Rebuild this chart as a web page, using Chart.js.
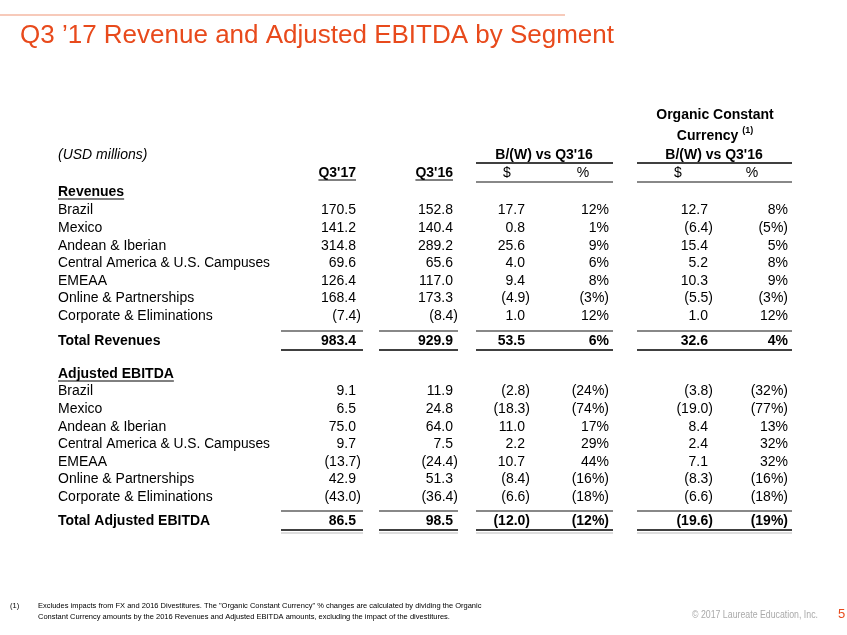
<!DOCTYPE html>
<html lang="en">
<head>
<meta charset="UTF-8">
<title>Q3 '17 Revenue and Adjusted EBITDA by Segment</title>
<script src="https://cdn.jsdelivr.net/npm/chart.js"></script>
<style>
  html, body { margin: 0; padding: 0; background: #fff; }
  #wrap { position: relative; width: 847px; height: 635px; }
</style>
</head>
<body>
<div id="wrap"><canvas id="table" width="847" height="635"></canvas></div>
<script>
// --- data (USD millions) ---
const segments = ['Brazil', 'Mexico', 'Andean & Iberian', 'Central America & U.S. Campuses', 'EMEAA', 'Online & Partnerships', 'Corporate & Eliminations'];

const rev17     = [170.5, 141.2, 314.8, 69.6, 126.4, 168.4, -7.4];
const rev16     = [152.8, 140.4, 289.2, 65.6, 117.0, 173.3, -8.4];
const revDiff   = [17.7, 0.8, 25.6, 4.0, 9.4, -4.9, 1.0];
const revPct    = [12, 1, 9, 6, 8, -3, 12];
const revOcDiff = [12.7, -6.4, 15.4, 5.2, 10.3, -5.5, 1.0];
const revOcPct  = [8, -5, 5, 8, 9, -3, 12];
const revTotal  = [983.4, 929.9, 53.5, 6, 32.6, 4];

const ebitda17     = [9.1, 6.5, 75.0, 9.7, -13.7, 42.9, -43.0];
const ebitda16     = [11.9, 24.8, 64.0, 7.5, -24.4, 51.3, -36.4];
const ebitdaDiff   = [-2.8, -18.3, 11.0, 2.2, 10.7, -8.4, -6.6];
const ebitdaPct    = [-24, -74, 17, 29, 44, -16, -18];
const ebitdaOcDiff = [-3.8, -19.0, 8.4, 2.4, 7.1, -8.3, -6.6];
const ebitdaOcPct  = [-32, -77, 13, 32, 32, -16, -18];
const ebitdaTotal  = [86.5, 98.5, -12.0, -12, -19.6, -19];

const colHeads = ["Q3'17", "Q3'16", '$', '%', '$', '%'];
const colKinds = ['num', 'num', 'num', 'pct', 'num', 'pct'];

// --- layout (page units, mapped through the hidden scales) ---
const FONT = "'Liberation Sans', Arial, sans-serif";
const ORANGE = '#e84a1c';
const colRight = [356, 453, 525, 609, 708, 788];
const subHeadX = [null, null, 507, 583, 678, 752];
const spans = [[281, 363], [379, 458], [476, 613], [637, 792]];
const labelX = 58;
const rowStep = 17.6;
const revY0 = 210.5, revTotY = 341, ebHeadY = 374, ebY0 = 391.5, ebTotY = 521;

function fmt(v, kind) {
    const a = Math.abs(v);
    const s = kind === 'pct' ? a.toFixed(0) + '%' : a.toFixed(1);
    return v < 0 ? '(' + s + ')' : s;
}

const tablePlugin = {
    id: 'tablePlugin',
    afterDraw(chart) {
        const { ctx, scales: { x, y } } = chart;
        const X = v => x.getPixelForValue(v);
        const Y = v => y.getPixelForValue(v);

        function text(str, px, py, font, color, align, maxW) {
            ctx.font = font;
            ctx.fillStyle = color || '#000';
            ctx.textAlign = align || 'left';
            ctx.textBaseline = 'middle';
            if (maxW) ctx.fillText(str, X(px), Y(py), maxW);
            else ctx.fillText(str, X(px), Y(py));
            return ctx.measureText(str).width;
        }
        function hline(x1, x2, py, color, w) {
            ctx.beginPath();
            ctx.strokeStyle = color;
            ctx.lineWidth = w;
            ctx.moveTo(X(x1), Y(py));
            ctx.lineTo(X(x2), Y(py));
            ctx.stroke();
        }
        function underlined(str, px, py, font, align) {
            const w = text(str, px, py, font, '#000', align);
            const x0 = align === 'right' ? px - w : px;
            hline(x0, x0 + w, py + 7, '#000', 1);
        }
        function numRow(vals, py, bold) {
            const font = (bold ? 'bold ' : '') + '14px ' + FONT;
            vals.forEach((v, c) => {
                const shift = (v < 0 && colKinds[c] === 'num') ? 5 : 0;
                text(fmt(v, colKinds[c]), colRight[c] + shift, py, font, '#000', 'right');
            });
        }

        ctx.save();
        // header band
        hline(0, 565, 15, '#f5b9a3', 1.5);
        text("Q3 \u201917 Revenue and Adjusted EBITDA by Segment", 20, 36, '26px ' + FONT, ORANGE);

        // column headers
        const bold = 'bold 14px ' + FONT;
        text('Organic Constant', 715, 115, bold, '#000', 'center');
        ctx.font = bold;
        const wCur = ctx.measureText('Currency ').width;
        ctx.font = 'bold 9px ' + FONT;
        const wSup = ctx.measureText('(1)').width;
        const curX = 715 - (wCur + wSup) / 2;
        text('Currency ', curX, 136, bold, '#000', 'left');
        text('(1)', curX + wCur, 131, 'bold 9px ' + FONT, '#000', 'left');
        text('(USD millions)', labelX, 155, 'italic 14px ' + FONT, '#000', 'left');
        text("B/(W) vs Q3'16", 544, 155, bold, '#000', 'center');
        text("B/(W) vs Q3'16", 714, 155, bold, '#000', 'center');
        hline(spans[2][0], spans[2][1], 163, '#000', 1.5);
        hline(spans[3][0], spans[3][1], 163, '#000', 1.5);
        underlined(colHeads[0], colRight[0], 173, bold, 'right');
        underlined(colHeads[1], colRight[1], 173, bold, 'right');
        for (let c = 2; c < 6; c++) text(colHeads[c], subHeadX[c], 173, '14px ' + FONT, '#000', 'center');
        hline(spans[2][0], spans[2][1], 182, '#888', 2);
        hline(spans[3][0], spans[3][1], 182, '#888', 2);

        // revenues block
        underlined('Revenues', labelX, 192, bold, 'left');
        segments.forEach((s, i) => {
            const py = revY0 + i * rowStep;
            text(s, labelX, py, '14px ' + FONT, '#000', 'left', 212);
            numRow([rev17[i], rev16[i], revDiff[i], revPct[i], revOcDiff[i], revOcPct[i]], py, false);
        });
        spans.forEach(sp => hline(sp[0], sp[1], revTotY - 10, '#888', 2));
        text('Total Revenues', labelX, revTotY, bold, '#000', 'left');
        numRow(revTotal, revTotY, true);
        spans.forEach(sp => hline(sp[0], sp[1], revTotY + 9, '#000', 1.5));

        // adjusted EBITDA block
        underlined('Adjusted EBITDA', labelX, ebHeadY, bold, 'left');
        segments.forEach((s, i) => {
            const py = ebY0 + i * rowStep;
            text(s, labelX, py, '14px ' + FONT, '#000', 'left', 212);
            numRow([ebitda17[i], ebitda16[i], ebitdaDiff[i], ebitdaPct[i], ebitdaOcDiff[i], ebitdaOcPct[i]], py, false);
        });
        spans.forEach(sp => hline(sp[0], sp[1], ebTotY - 10, '#888', 2));
        text('Total Adjusted EBITDA', labelX, ebTotY, bold, '#000', 'left');
        numRow(ebitdaTotal, ebTotY, true);
        spans.forEach(sp => hline(sp[0], sp[1], ebTotY + 9, '#000', 1.5));
        spans.forEach(sp => hline(sp[0], sp[1], ebTotY + 12, '#bbb', 1));

        // footnote and footer
        const small = '7.5px ' + FONT;
        text('(1)', 10, 606, small, '#000', 'left');
        text('Excludes impacts from FX and 2016 Divestitures. The "Organic Constant Currency" % changes are calculated by dividing the Organic', 38, 606, small, '#000', 'left', 489);
        text('Constant Currency amounts by the 2016 Revenues and Adjusted EBITDA amounts, excluding the impact of the divestitures.', 38, 617, small, '#000', 'left', 452);
        text('\u00a9 2017 Laureate Education, Inc.', 692, 615, '10px ' + FONT, '#aaa', 'left', 126);
        text('5', 838, 614, '13px ' + FONT, ORANGE, 'left');
        ctx.restore();
    }
};

new Chart(document.getElementById('table'), {
    type: 'scatter',
    data: { datasets: [{ data: [], pointRadius: 0 }] },
    options: {
        responsive: false,
        animation: false,
        events: [],
        layout: { padding: 0 },
        plugins: { legend: { display: false }, tooltip: { enabled: false } },
        scales: {
            x: { type: 'linear', min: 0, max: 847, display: false },
            y: { type: 'linear', min: 0, max: 635, reverse: true, display: false }
        }
    },
    plugins: [tablePlugin]
});
</script>
</body>
</html>
